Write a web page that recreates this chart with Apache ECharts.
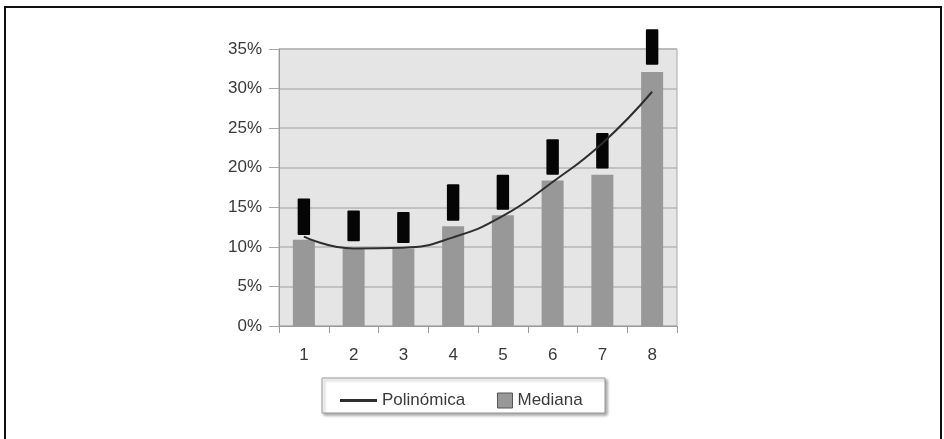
<!DOCTYPE html>
<html>
<head>
<meta charset="utf-8">
<script src="https://cdn.jsdelivr.net/npm/echarts@6/dist/echarts.min.js"></script>
<style>
  html, body { margin: 0; padding: 0; background: #fff; }
  #chart { width: 944px; height: 439px; }
</style>
</head>
<body>
<div id="chart"></div>
<script>
// Categories along the x axis
const categories = ['1', '2', '3', '4', '5', '6', '7', '8'];
// Median value per category (%)
const mediana = [10.9, 9.8, 9.8, 12.6, 14.0, 18.4, 19.1, 32.1];
// Polynomial trend line (%)
const polinomica = [11.3, 9.8, 9.9, 11.2, 13.9, 18.2, 23.1, 29.6];
// Range boxes drawn above each bar: lower and upper bounds (%)
const rangoBajo = [11.5, 10.7, 10.5, 13.3, 14.7, 19.1, 19.9, 33.0];
const rangoAlto = [16.1, 14.6, 14.4, 17.9, 19.1, 23.6, 24.4, 37.5];
// Y axis ticks
const yMin = 0, yMax = 35, yStep = 5;

const chart = echarts.init(document.getElementById('chart'), null, { renderer: 'canvas' });

const rangos = categories.map((c, i) => [i, rangoBajo[i], rangoAlto[i]]);

const font = 'Liberation Sans, Arial, sans-serif';

chart.setOption({
  animation: false,
  backgroundColor: '#ffffff',
  graphic: [
    {
      type: 'rect',
      shape: { x: 5, y: 7, width: 936, height: 450 },
      style: { fill: 'none', stroke: '#111', lineWidth: 2 },
      silent: true
    },
    {
      type: 'rect',
      z: -1,
      shape: { x: 322, y: 378, width: 283, height: 35 },
      style: {
        fill: '#ffffff', stroke: '#9a9a9a', lineWidth: 1,
        shadowColor: 'rgba(0,0,0,0.35)', shadowBlur: 3, shadowOffsetX: 2, shadowOffsetY: 2
      },
      silent: true
    }
  ],
  grid: {
    left: 279, right: 267, top: 49, bottom: 113,
    show: true, backgroundColor: '#e5e5e5', borderColor: '#a8a8a8', borderWidth: 1
  },
  legend: [
    {
      data: [{ name: 'Polinómica', icon: 'rect' }],
      left: 335, top: 387,
      itemWidth: 37, itemHeight: 3,
      textStyle: { fontFamily: font, fontSize: 17, color: '#3a3a3a' },
      selectedMode: false
    },
    {
      data: [{ name: 'Mediana', icon: 'rect', itemStyle: { borderColor: '#555', borderWidth: 1 } }],
      left: 492, top: 387,
      itemWidth: 15, itemHeight: 15,
      textStyle: { fontFamily: font, fontSize: 17, color: '#3a3a3a' },
      selectedMode: false
    }
  ],
  xAxis: {
    type: 'category',
    data: categories,
    boundaryGap: true,
    axisLine: { show: true, lineStyle: { color: '#9a9a9a', width: 1 } },
    axisTick: { show: true, alignWithLabel: false, length: 7, lineStyle: { color: '#9a9a9a' } },
    axisLabel: { margin: 21, fontFamily: font, fontSize: 17, color: '#3a3a3a' },
    splitLine: { show: false }
  },
  yAxis: {
    type: 'value',
    min: yMin, max: yMax, interval: yStep,
    axisLine: { show: true, lineStyle: { color: '#9a9a9a', width: 1 } },
    axisTick: { show: true, length: 10, lineStyle: { color: '#a8a8a8' } },
    axisLabel: { margin: 17, fontFamily: font, fontSize: 17, color: '#3a3a3a', formatter: '{value}%' },
    splitLine: { show: true, lineStyle: { color: '#b4b4b4', width: 1.5 } }
  },
  series: [
    {
      name: 'Mediana',
      type: 'bar',
      data: mediana,
      barWidth: 22,
      itemStyle: { color: '#989898' },
      z: 2
    },
    {
      name: 'Rango',
      type: 'custom',
      data: rangos,
      encode: { x: 0, y: [1, 2] },
      clip: false,
      z: 3,
      renderItem: function (params, api) {
        const lo = api.coord([api.value(0), api.value(1)]);
        const hi = api.coord([api.value(0), api.value(2)]);
        const w = api.size([1, 0])[0] * 0.25;
        return {
          type: 'rect',
          shape: { x: lo[0] - w / 2, y: hi[1], width: w, height: lo[1] - hi[1], r: 1 },
          style: { fill: '#050505' }
        };
      }
    },
    {
      name: 'Polinómica',
      type: 'line',
      data: polinomica,
      smooth: true,
      symbol: 'none',
      lineStyle: { color: '#2e2e2e', width: 2 },
      itemStyle: { color: '#2e2e2e' },
      z: 4
    }
  ]
});
</script>
</body>
</html>
